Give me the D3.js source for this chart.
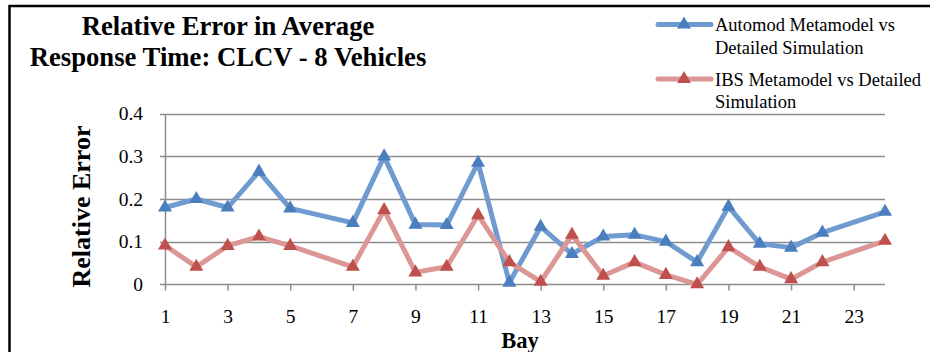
<!DOCTYPE html>
<html>
<head>
<meta charset="utf-8">
<script src="https://cdn.jsdelivr.net/npm/d3@7"></script>
<style>
  html, body { margin: 0; padding: 0; background: #fff; }
  svg { display: block; }
  svg text { font-family: "Liberation Serif", "Times New Roman", serif !important; fill: #000; }
</style>
</head>
<body>
<svg id="chart" width="930" height="352"></svg>
<script>
const bays = [1, 2, 3, 4, 5, 7, 8, 9, 10, 11, 12, 13, 14, 15, 16, 17, 18, 19, 20, 21, 22, 24];
const automod = [0.18, 0.20, 0.18, 0.264, 0.178, 0.144, 0.30, 0.14, 0.139, 0.285, 0.004, 0.135, 0.071, 0.112, 0.116, 0.10, 0.052, 0.182, 0.095, 0.086, 0.121, 0.17];
const ibs = [0.091, 0.041, 0.09, 0.112, 0.09, 0.041, 0.174, 0.028, 0.041, 0.162, 0.052, 0.006, 0.116, 0.02, 0.052, 0.022, 0.0, 0.087, 0.041, 0.012, 0.052, 0.102];
const xTicks = [1, 3, 5, 7, 9, 11, 13, 15, 17, 19, 21, 23];
const yTicks = [0, 0.1, 0.2, 0.3, 0.4];
const seriesNames = ["Automod Metamodel vs|Detailed Simulation", "IBS Metamodel vs Detailed|Simulation"];
const titleLines = ["Relative Error in Average", "Response Time: CLCV - 8 Vehicles"];

const svg = d3.select("#chart");
const x = d3.scaleLinear().domain([1, 24]).range([165, 885]);
const y = d3.scaleLinear().domain([0, 0.4]).range([284.3, 113.7]);
const serif = "'Liberation Serif', 'Times New Roman', serif";

// frame (left + top visible)
svg.append("path").attr("d", "M9.5,352 V6 H930").attr("fill", "none").attr("stroke", "#000").attr("stroke-width", 2.5);

// title
const title = svg.append("text").attr("text-anchor", "middle").style("font-weight", "bold").style("font-size", "26.7px");
titleLines.forEach((t, i) => title.append("tspan").attr("x", 228).attr("y", 35 + i * 31).text(t));

const gridColor = "#8c8c8c";
// gridlines
svg.append("g").selectAll("line").data(yTicks).join("line")
  .attr("x1", 160).attr("x2", x(24))
  .attr("y1", d => Math.round(y(d)) + 0.5).attr("y2", d => Math.round(y(d)) + 0.5)
  .attr("stroke", gridColor).attr("stroke-width", 1.5);

// y axis
const yAxis = svg.append("g").attr("transform", `translate(${x(1)},0)`)
  .call(d3.axisLeft(y).tickValues(yTicks).tickSize(0).tickPadding(22).tickFormat(d => d === 0 ? "0" : d3.format(".1f")(d)));
yAxis.select(".domain").attr("stroke", gridColor).attr("stroke-width", 1.5);
yAxis.selectAll("text").style("font-size", "19.5px").style("font-family", serif);

// x axis
const xAxis = svg.append("g").attr("transform", `translate(0,${Math.round(y(0)) + 0.5})`)
  .call(d3.axisBottom(x).tickValues(xTicks).tickSize(6).tickPadding(18.5).tickFormat(d3.format("d")));
xAxis.select(".domain").remove();
xAxis.selectAll(".tick line").attr("stroke", gridColor).attr("stroke-width", 1.5);
xAxis.selectAll("text").style("font-size", "19.5px").style("font-family", serif);

// axis titles
svg.append("text").attr("transform", `translate(89.5,206.5) rotate(-90)`).attr("text-anchor", "middle")
  .style("font-weight", "bold").style("font-size", "26px").text("Relative Error");
svg.append("text").attr("x", 520).attr("y", 347.5).attr("text-anchor", "middle")
  .style("font-weight", "bold").style("font-size", "22.5px").text("Bay");

const colors = [
  { line: "#6f9bd0", marker: "#4a7ebf" },
  { line: "#dc9696", marker: "#c0504d" }
];
const tri = d3.symbol().type(d3.symbolTriangle).size(85);
const line = d3.line().x(d => x(d[0])).y(d => y(d[1]));

[automod, ibs].forEach((vals, si) => {
  const pts = bays.map((b, i) => [b, vals[i]]);
  svg.append("path").datum(pts).attr("d", line).attr("fill", "none")
    .attr("stroke", colors[si].line).attr("stroke-width", 5).attr("stroke-linejoin", "round").attr("stroke-linecap", "round");
  svg.append("g").selectAll("path").data(pts).join("path")
    .attr("d", tri).attr("transform", d => `translate(${x(d[0])},${y(d[1])})`)
    .attr("fill", colors[si].marker);
});

// legend
const legY = [24.5, 79];
seriesNames.forEach((name, si) => {
  const g = svg.append("g");
  g.append("line").attr("x1", 658).attr("x2", 711).attr("y1", legY[si]).attr("y2", legY[si])
    .attr("stroke", colors[si].line).attr("stroke-width", 5).attr("stroke-linecap", "round");
  g.append("path").attr("d", tri).attr("transform", `translate(684,${legY[si]})`).attr("fill", colors[si].marker);
  const t = g.append("text").style("font-size", "18.5px");
  name.split("|").forEach((ln, li) => t.append("tspan").attr("x", 715).attr("y", legY[si] + 6.5 + li * 22.7).text(ln));
});
</script>
</body>
</html>
